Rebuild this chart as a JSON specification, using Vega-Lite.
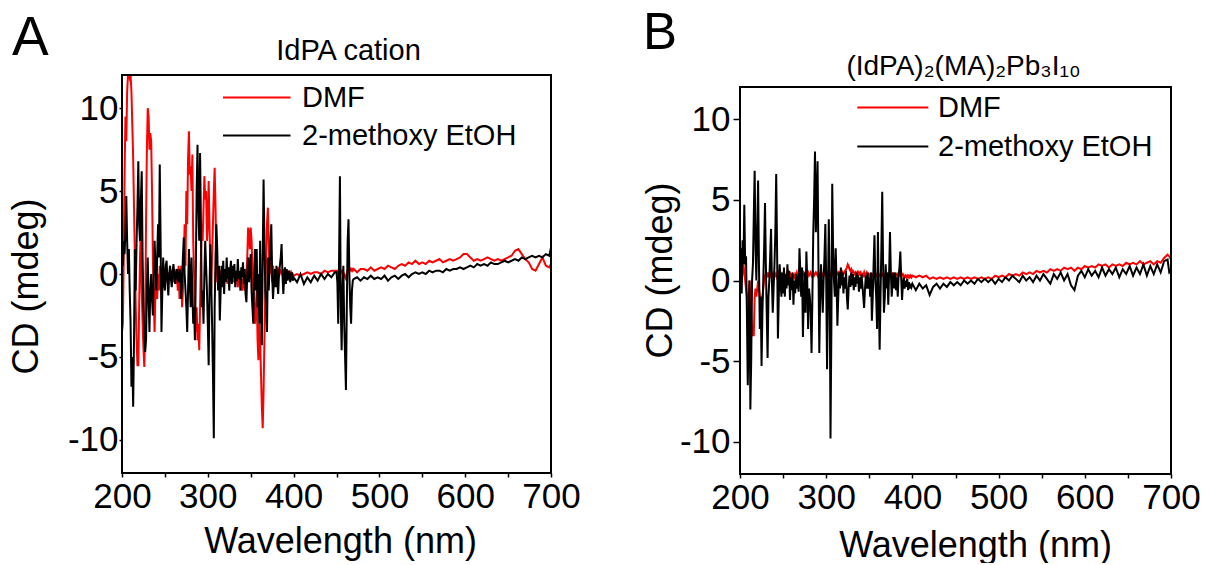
{
"$schema":"https://vega.github.io/schema/vega-lite/v6.json",
"padding":{"left":8,"top":8,"right":0,"bottom":0},
"config":{"font":"Liberation Sans","view":{"stroke":null},
"axis":{"grid":false,"domain":false,"labelFont":"Liberation Sans","labelFontSize":35,"labelColor":"#000000","titleFont":"Liberation Sans","titleFontSize":36,"titleFontWeight":"normal","titleColor":"#000000","tickColor":"#000000","tickWidth":1.5,"labelFlush":false,"labelOverlap":false},
"legend":{"labelFont":"Liberation Sans","labelColor":"#000000","labelFontSize":29,"labelLimit":500,"padding":0,"symbolStrokeWidth":2,"symbolType":"M-1,0H4"},
"title":{"font":"Liberation Sans","fontWeight":"normal","color":"#000000"}},
"datasets":{
"A":[
{"w":200,"DMF":-3.5,"2-methoxy EtOH":1.5},{"w":201,"DMF":-3,"2-methoxy EtOH":0.5},{"w":202,"DMF":1,"2-methoxy EtOH":2},{"w":203,"DMF":6,"2-methoxy EtOH":1.2},{"w":204,"DMF":9.5,"2-methoxy EtOH":2.5},{"w":205,"DMF":8,"2-methoxy EtOH":4.7},{"w":206,"DMF":11,"2-methoxy EtOH":2},{"w":207,"DMF":12,"2-methoxy EtOH":0},{"w":208,"DMF":12,"2-methoxy EtOH":1.5},{"w":209,"DMF":11.8,"2-methoxy EtOH":-1},
{"w":210,"DMF":12,"2-methoxy EtOH":-3},{"w":211,"DMF":11,"2-methoxy EtOH":-6.8},{"w":212,"DMF":9,"2-methoxy EtOH":-5},{"w":213,"DMF":7,"2-methoxy EtOH":-8},{"w":214,"DMF":4,"2-methoxy EtOH":-4},{"w":215,"DMF":1,"2-methoxy EtOH":1.5},{"w":216,"DMF":-2,"2-methoxy EtOH":-1},{"w":217,"DMF":-4,"2-methoxy EtOH":2},{"w":218,"DMF":-5.5,"2-methoxy EtOH":4},{"w":219,"DMF":-5.5,"2-methoxy EtOH":6.8},
{"w":220,"DMF":-2,"2-methoxy EtOH":3},{"w":221,"DMF":1,"2-methoxy EtOH":2},{"w":222,"DMF":3,"2-methoxy EtOH":4.5},{"w":223,"DMF":-1,"2-methoxy EtOH":6.2},{"w":224,"DMF":-3,"2-methoxy EtOH":1},{"w":225,"DMF":-4.5,"2-methoxy EtOH":-2},{"w":226,"DMF":-5.6,"2-methoxy EtOH":-3.5},{"w":227,"DMF":-3,"2-methoxy EtOH":-4.7},{"w":228,"DMF":3,"2-methoxy EtOH":-4},{"w":229,"DMF":7.5,"2-methoxy EtOH":-1},
{"w":230,"DMF":10,"2-methoxy EtOH":1},{"w":231,"DMF":9.5,"2-methoxy EtOH":-1.5},{"w":232,"DMF":7.5,"2-methoxy EtOH":-3.5},{"w":233,"DMF":8.5,"2-methoxy EtOH":-1},{"w":234,"DMF":8,"2-methoxy EtOH":0},{"w":235,"DMF":5,"2-methoxy EtOH":-1.5},{"w":236,"DMF":1,"2-methoxy EtOH":-2.5},{"w":237,"DMF":-1.5,"2-methoxy EtOH":0},{"w":238,"DMF":-3.5,"2-methoxy EtOH":2},{"w":239,"DMF":-1,"2-methoxy EtOH":0.5},
{"w":240,"DMF":0.5,"2-methoxy EtOH":-1},{"w":241,"DMF":-1.5,"2-methoxy EtOH":1},{"w":242,"DMF":0,"2-methoxy EtOH":3},{"w":243,"DMF":-1,"2-methoxy EtOH":1},{"w":244,"DMF":0.5,"2-methoxy EtOH":6.6},{"w":245,"DMF":-0.5,"2-methoxy EtOH":2},{"w":246,"DMF":0,"2-methoxy EtOH":-3.5},{"w":247,"DMF":-0.8,"2-methoxy EtOH":-1},{"w":248,"DMF":0.3,"2-methoxy EtOH":1},{"w":249,"DMF":-0.3,"2-methoxy EtOH":-0.5},
{"w":250,"DMF":0,"2-methoxy EtOH":-1},{"w":251,"DMF":-0.5,"2-methoxy EtOH":0.5},{"w":252,"DMF":0.2,"2-methoxy EtOH":0.8},{"w":253,"DMF":-0.2,"2-methoxy EtOH":-0.5},{"w":254,"DMF":0.1,"2-methoxy EtOH":-1.3},{"w":255,"DMF":-0.4,"2-methoxy EtOH":0},{"w":256,"DMF":0,"2-methoxy EtOH":0.5},{"w":257,"DMF":0.2,"2-methoxy EtOH":-0.3},{"w":258,"DMF":-0.3,"2-methoxy EtOH":-0.8},{"w":259,"DMF":0,"2-methoxy EtOH":0.2},
{"w":260,"DMF":-0.5,"2-methoxy EtOH":0.6},{"w":261,"DMF":0.3,"2-methoxy EtOH":-0.2},{"w":262,"DMF":0,"2-methoxy EtOH":-0.6},{"w":263,"DMF":-0.6,"2-methoxy EtOH":0.1},{"w":264,"DMF":0,"2-methoxy EtOH":0.3},{"w":265,"DMF":-1,"2-methoxy EtOH":-0.3},{"w":266,"DMF":0.5,"2-methoxy EtOH":-0.5},{"w":267,"DMF":-1.5,"2-methoxy EtOH":0.3},{"w":268,"DMF":-1,"2-methoxy EtOH":0},{"w":269,"DMF":0.5,"2-methoxy EtOH":-1.5},
{"w":270,"DMF":-2,"2-methoxy EtOH":-0.5},{"w":271,"DMF":-1,"2-methoxy EtOH":1},{"w":272,"DMF":1,"2-methoxy EtOH":2.2},{"w":273,"DMF":3,"2-methoxy EtOH":0},{"w":274,"DMF":0.5,"2-methoxy EtOH":-1},{"w":275,"DMF":5,"2-methoxy EtOH":-2},{"w":276,"DMF":3,"2-methoxy EtOH":-3.5},{"w":277,"DMF":7,"2-methoxy EtOH":-1},{"w":278,"DMF":8.6,"2-methoxy EtOH":1.5},{"w":279,"DMF":6,"2-methoxy EtOH":-0.5},
{"w":280,"DMF":6.5,"2-methoxy EtOH":-2},{"w":281,"DMF":5,"2-methoxy EtOH":1},{"w":282,"DMF":7.2,"2-methoxy EtOH":-1},{"w":283,"DMF":2,"2-methoxy EtOH":-3},{"w":284,"DMF":0,"2-methoxy EtOH":-2},{"w":285,"DMF":-2,"2-methoxy EtOH":-4},{"w":286,"DMF":-3.5,"2-methoxy EtOH":0},{"w":287,"DMF":-2,"2-methoxy EtOH":5},{"w":288,"DMF":-4,"2-methoxy EtOH":7.8},{"w":289,"DMF":-3,"2-methoxy EtOH":4},
{"w":290,"DMF":-4.6,"2-methoxy EtOH":2},{"w":291,"DMF":-2,"2-methoxy EtOH":7.3},{"w":292,"DMF":1,"2-methoxy EtOH":3},{"w":293,"DMF":3,"2-methoxy EtOH":-2},{"w":294,"DMF":2,"2-methoxy EtOH":-1},{"w":295,"DMF":4,"2-methoxy EtOH":-3},{"w":296,"DMF":5.9,"2-methoxy EtOH":0},{"w":297,"DMF":4.5,"2-methoxy EtOH":2},{"w":298,"DMF":5,"2-methoxy EtOH":0.5},{"w":299,"DMF":2,"2-methoxy EtOH":-1},
{"w":300,"DMF":3,"2-methoxy EtOH":-3},{"w":301,"DMF":5.6,"2-methoxy EtOH":-5.5},{"w":302,"DMF":3,"2-methoxy EtOH":-1},{"w":303,"DMF":0,"2-methoxy EtOH":1.8},{"w":304,"DMF":-1,"2-methoxy EtOH":-0.5},{"w":305,"DMF":1,"2-methoxy EtOH":-3},{"w":306,"DMF":3,"2-methoxy EtOH":-6},{"w":307,"DMF":5,"2-methoxy EtOH":-9.9},{"w":308,"DMF":6.4,"2-methoxy EtOH":-2},{"w":309,"DMF":4,"2-methoxy EtOH":1},
{"w":310,"DMF":1,"2-methoxy EtOH":3},{"w":311,"DMF":-0.5,"2-methoxy EtOH":1.5},{"w":312,"DMF":0,"2-methoxy EtOH":-1},{"w":313,"DMF":-0.8,"2-methoxy EtOH":0.5},{"w":314,"DMF":-0.3,"2-methoxy EtOH":-2.8},{"w":315,"DMF":0.2,"2-methoxy EtOH":-1},{"w":316,"DMF":-0.3,"2-methoxy EtOH":0.5},{"w":317,"DMF":0,"2-methoxy EtOH":-0.8},{"w":318,"DMF":-0.5,"2-methoxy EtOH":0.8},{"w":319,"DMF":0.1,"2-methoxy EtOH":-1.2},
{"w":320,"DMF":-0.4,"2-methoxy EtOH":0.3},{"w":321,"DMF":0,"2-methoxy EtOH":-0.5},{"w":322,"DMF":-0.2,"2-methoxy EtOH":1},{"w":323,"DMF":-0.6,"2-methoxy EtOH":-0.3},{"w":324,"DMF":0,"2-methoxy EtOH":0.4},{"w":325,"DMF":-0.3,"2-methoxy EtOH":-1},{"w":326,"DMF":0.2,"2-methoxy EtOH":0.2},{"w":327,"DMF":-0.4,"2-methoxy EtOH":0.8},{"w":328,"DMF":0,"2-methoxy EtOH":-0.6},{"w":329,"DMF":-0.2,"2-methoxy EtOH":0.5},
{"w":330,"DMF":-0.5,"2-methoxy EtOH":-0.2},{"w":331,"DMF":0,"2-methoxy EtOH":0.6},{"w":332,"DMF":-0.3,"2-methoxy EtOH":-0.8},{"w":333,"DMF":0.1,"2-methoxy EtOH":0.2},{"w":334,"DMF":-0.4,"2-methoxy EtOH":-0.4},{"w":335,"DMF":-0.8,"2-methoxy EtOH":0.9},{"w":336,"DMF":-0.2,"2-methoxy EtOH":-0.3},{"w":337,"DMF":0,"2-methoxy EtOH":0.2},{"w":338,"DMF":-0.5,"2-methoxy EtOH":-1},{"w":339,"DMF":-0.2,"2-methoxy EtOH":0.4},
{"w":340,"DMF":-1,"2-methoxy EtOH":-0.2},{"w":341,"DMF":-0.3,"2-methoxy EtOH":0.7},{"w":342,"DMF":-0.6,"2-methoxy EtOH":-0.6},{"w":343,"DMF":-1,"2-methoxy EtOH":0.3},{"w":344,"DMF":-0.4,"2-methoxy EtOH":-1.2},{"w":345,"DMF":0,"2-methoxy EtOH":-1.7},{"w":346,"DMF":1,"2-methoxy EtOH":0},{"w":347,"DMF":2.8,"2-methoxy EtOH":1},{"w":348,"DMF":2.5,"2-methoxy EtOH":-0.5},{"w":349,"DMF":1.5,"2-methoxy EtOH":0.5},
{"w":350,"DMF":2.8,"2-methoxy EtOH":1.2},{"w":351,"DMF":2,"2-methoxy EtOH":-1},{"w":352,"DMF":0.5,"2-methoxy EtOH":-2},{"w":353,"DMF":-1,"2-methoxy EtOH":-3},{"w":354,"DMF":-2,"2-methoxy EtOH":0},{"w":355,"DMF":-3,"2-methoxy EtOH":1.5},{"w":356,"DMF":-2,"2-methoxy EtOH":-1},{"w":357,"DMF":-1,"2-methoxy EtOH":1.5},{"w":358,"DMF":-4,"2-methoxy EtOH":-2},{"w":359,"DMF":-5.2,"2-methoxy EtOH":0},
{"w":360,"DMF":-3,"2-methoxy EtOH":-3},{"w":361,"DMF":-4,"2-methoxy EtOH":2},{"w":362,"DMF":-6,"2-methoxy EtOH":-2},{"w":363,"DMF":-8,"2-methoxy EtOH":-4.3},{"w":364,"DMF":-9.3,"2-methoxy EtOH":1},{"w":365,"DMF":-7,"2-methoxy EtOH":5.7},{"w":366,"DMF":-4,"2-methoxy EtOH":2},{"w":367,"DMF":-1,"2-methoxy EtOH":-1},{"w":368,"DMF":1,"2-methoxy EtOH":-2},{"w":369,"DMF":3,"2-methoxy EtOH":-3.5},
{"w":370,"DMF":4,"2-methoxy EtOH":1},{"w":371,"DMF":2,"2-methoxy EtOH":-1},{"w":372,"DMF":0,"2-methoxy EtOH":0.5},{"w":373,"DMF":1,"2-methoxy EtOH":2},{"w":374,"DMF":0.5,"2-methoxy EtOH":3},{"w":375,"DMF":-0.5,"2-methoxy EtOH":0},{"w":376,"DMF":0.5,"2-methoxy EtOH":-1.5},{"w":377,"DMF":0,"2-methoxy EtOH":-0.5},{"w":378,"DMF":0.3,"2-methoxy EtOH":0.3},{"w":379,"DMF":-0.3,"2-methoxy EtOH":-0.8},
{"w":380,"DMF":0.2,"2-methoxy EtOH":0.5},{"w":381,"DMF":0,"2-methoxy EtOH":-0.5},{"w":382,"DMF":0.4,"2-methoxy EtOH":-1.2},{"w":383,"DMF":-0.2,"2-methoxy EtOH":0},{"w":384,"DMF":0.3,"2-methoxy EtOH":0.5},{"w":385,"DMF":0,"2-methoxy EtOH":1},{"w":386,"DMF":0.2,"2-methoxy EtOH":1.8},{"w":387,"DMF":-0.1,"2-methoxy EtOH":0},{"w":388,"DMF":0.3,"2-methoxy EtOH":-1.2},{"w":389,"DMF":0,"2-methoxy EtOH":-0.3},
{"w":390,"DMF":0.2,"2-methoxy EtOH":0.4},{"w":391,"DMF":-0.1,"2-methoxy EtOH":-0.6},{"w":392,"DMF":0.1,"2-methoxy EtOH":0.3},{"w":393,"DMF":0,"2-methoxy EtOH":-0.4},{"w":394,"DMF":0.2,"2-methoxy EtOH":-0.1},{"w":395,"DMF":-0.1,"2-methoxy EtOH":0.2},{"w":396,"DMF":0,"2-methoxy EtOH":-0.5},{"w":397,"DMF":0.1,"2-methoxy EtOH":-0.2},{"w":398,"DMF":-0.1,"2-methoxy EtOH":0.1},{"w":399,"DMF":0,"2-methoxy EtOH":-0.4},
{"w":400,"DMF":-0.1,"2-methoxy EtOH":-0.2},{"w":404,"DMF":0,"2-methoxy EtOH":-0.5},{"w":408,"DMF":-0.1,"2-methoxy EtOH":0},{"w":412,"DMF":0,"2-methoxy EtOH":-0.6},{"w":416,"DMF":0.1,"2-methoxy EtOH":-0.2},{"w":420,"DMF":0,"2-methoxy EtOH":-0.5},{"w":424,"DMF":0.1,"2-methoxy EtOH":-0.1},{"w":428,"DMF":0.1,"2-methoxy EtOH":-0.4},{"w":432,"DMF":0,"2-methoxy EtOH":0},{"w":436,"DMF":0.2,"2-methoxy EtOH":-0.3},
{"w":440,"DMF":0.1,"2-methoxy EtOH":0},{"w":444,"DMF":0.2,"2-methoxy EtOH":-0.2},{"w":448,"DMF":0.2,"2-methoxy EtOH":0.1},{"w":450,"DMF":0.2,"2-methoxy EtOH":0.1},{"w":451,"DMF":0.1,"2-methoxy EtOH":-0.5},{"w":452,"DMF":0.2,"2-methoxy EtOH":-3},{"w":453,"DMF":0.2,"2-methoxy EtOH":1},{"w":454,"DMF":0.3,"2-methoxy EtOH":5.9},{"w":455,"DMF":0.2,"2-methoxy EtOH":-2},{"w":456,"DMF":0.1,"2-methoxy EtOH":-4.6},
{"w":457,"DMF":0.2,"2-methoxy EtOH":-1},{"w":458,"DMF":0.1,"2-methoxy EtOH":0.5},{"w":459,"DMF":0,"2-methoxy EtOH":-3},{"w":460,"DMF":-0.2,"2-methoxy EtOH":-5},{"w":461,"DMF":-0.3,"2-methoxy EtOH":-7},{"w":462,"DMF":0,"2-methoxy EtOH":-2},{"w":463,"DMF":0.2,"2-methoxy EtOH":2},{"w":464,"DMF":0.3,"2-methoxy EtOH":3.3},{"w":465,"DMF":0.2,"2-methoxy EtOH":0},{"w":466,"DMF":0.3,"2-methoxy EtOH":-2},
{"w":467,"DMF":0.2,"2-methoxy EtOH":-3},{"w":468,"DMF":0.3,"2-methoxy EtOH":-1},{"w":469,"DMF":0.2,"2-methoxy EtOH":-0.4},{"w":470,"DMF":0.3,"2-methoxy EtOH":-0.3},{"w":474,"DMF":0.1,"2-methoxy EtOH":-0.2},{"w":478,"DMF":0.3,"2-methoxy EtOH":-0.4},{"w":482,"DMF":0.3,"2-methoxy EtOH":-0.2},{"w":486,"DMF":0.2,"2-methoxy EtOH":-0.3},{"w":490,"DMF":0.4,"2-methoxy EtOH":-0.1},{"w":494,"DMF":0.2,"2-methoxy EtOH":-0.3},
{"w":498,"DMF":0.3,"2-methoxy EtOH":-0.2},{"w":502,"DMF":0.4,"2-methoxy EtOH":-0.3},{"w":506,"DMF":0.3,"2-methoxy EtOH":-0.1},{"w":510,"DMF":0.5,"2-methoxy EtOH":-0.4},{"w":514,"DMF":0.4,"2-methoxy EtOH":-0.2},{"w":518,"DMF":0.3,"2-methoxy EtOH":-0.1},{"w":522,"DMF":0.5,"2-methoxy EtOH":-0.3},{"w":526,"DMF":0.6,"2-methoxy EtOH":-0.1},{"w":530,"DMF":0.5,"2-methoxy EtOH":0},{"w":534,"DMF":0.7,"2-methoxy EtOH":-0.2},
{"w":538,"DMF":0.6,"2-methoxy EtOH":0},{"w":542,"DMF":0.8,"2-methoxy EtOH":0.1},{"w":546,"DMF":0.6,"2-methoxy EtOH":0},{"w":550,"DMF":0.7,"2-methoxy EtOH":0.1},{"w":554,"DMF":0.6,"2-methoxy EtOH":0},{"w":558,"DMF":0.8,"2-methoxy EtOH":0.2},{"w":562,"DMF":0.7,"2-methoxy EtOH":0.1},{"w":566,"DMF":0.8,"2-methoxy EtOH":0.2},{"w":570,"DMF":0.9,"2-methoxy EtOH":0.2},{"w":574,"DMF":0.7,"2-methoxy EtOH":0.1},
{"w":578,"DMF":0.8,"2-methoxy EtOH":0.3},{"w":582,"DMF":0.9,"2-methoxy EtOH":0.2},{"w":586,"DMF":0.8,"2-methoxy EtOH":0.3},{"w":590,"DMF":0.9,"2-methoxy EtOH":0.3},{"w":594,"DMF":1,"2-methoxy EtOH":0.4},{"w":598,"DMF":1.2,"2-methoxy EtOH":0.3},{"w":602,"DMF":1.2,"2-methoxy EtOH":0.4},{"w":606,"DMF":1,"2-methoxy EtOH":0.5},{"w":610,"DMF":0.8,"2-methoxy EtOH":0.4},{"w":614,"DMF":0.9,"2-methoxy EtOH":0.6},
{"w":618,"DMF":0.8,"2-methoxy EtOH":0.5},{"w":622,"DMF":0.9,"2-methoxy EtOH":0.6},{"w":626,"DMF":1,"2-methoxy EtOH":0.5},{"w":630,"DMF":0.9,"2-methoxy EtOH":0.7},{"w":634,"DMF":0.8,"2-methoxy EtOH":0.6},{"w":638,"DMF":0.9,"2-methoxy EtOH":0.6},{"w":642,"DMF":0.8,"2-methoxy EtOH":0.7},{"w":646,"DMF":0.9,"2-methoxy EtOH":0.8},{"w":650,"DMF":1,"2-methoxy EtOH":0.7},{"w":654,"DMF":1.1,"2-methoxy EtOH":0.8},
{"w":658,"DMF":1.4,"2-methoxy EtOH":0.9},{"w":662,"DMF":1.5,"2-methoxy EtOH":0.8},{"w":666,"DMF":1.2,"2-methoxy EtOH":1},{"w":670,"DMF":0.9,"2-methoxy EtOH":0.9},{"w":674,"DMF":0.7,"2-methoxy EtOH":1},{"w":678,"DMF":0.3,"2-methoxy EtOH":1.1},{"w":682,"DMF":0.2,"2-methoxy EtOH":1},{"w":686,"DMF":0.6,"2-methoxy EtOH":1.1},{"w":690,"DMF":1,"2-methoxy EtOH":1},{"w":694,"DMF":0.5,"2-methoxy EtOH":1.2},
{"w":698,"DMF":0.4,"2-methoxy EtOH":1.1},{"w":700,"DMF":0.6,"2-methoxy EtOH":1.6}
],
"B":[
{"w":200,"DMF":0.5,"2-methoxy EtOH":0},{"w":201,"DMF":1,"2-methoxy EtOH":2},{"w":202,"DMF":0,"2-methoxy EtOH":-0.8},{"w":203,"DMF":0.5,"2-methoxy EtOH":2.5},{"w":204,"DMF":1,"2-methoxy EtOH":1},{"w":205,"DMF":0.5,"2-methoxy EtOH":4.7},{"w":206,"DMF":0,"2-methoxy EtOH":1},{"w":207,"DMF":-0.5,"2-methoxy EtOH":1.5},{"w":208,"DMF":-1,"2-methoxy EtOH":-2},{"w":209,"DMF":-2,"2-methoxy EtOH":-6.5},
{"w":210,"DMF":-1,"2-methoxy EtOH":-3},{"w":211,"DMF":0,"2-methoxy EtOH":0},{"w":212,"DMF":-1,"2-methoxy EtOH":-8},{"w":213,"DMF":-2,"2-methoxy EtOH":-5},{"w":214,"DMF":-3,"2-methoxy EtOH":0},{"w":215,"DMF":-3.4,"2-methoxy EtOH":1},{"w":216,"DMF":-3.4,"2-methoxy EtOH":4},{"w":217,"DMF":-1,"2-methoxy EtOH":6.8},{"w":218,"DMF":-0.5,"2-methoxy EtOH":2},{"w":219,"DMF":-1,"2-methoxy EtOH":0},
{"w":220,"DMF":-0.5,"2-methoxy EtOH":3},{"w":221,"DMF":0,"2-methoxy EtOH":6.2},{"w":222,"DMF":-0.5,"2-methoxy EtOH":1},{"w":223,"DMF":-1,"2-methoxy EtOH":-3},{"w":224,"DMF":-1.5,"2-methoxy EtOH":-1},{"w":225,"DMF":-1.5,"2-methoxy EtOH":-5.3},{"w":226,"DMF":-1,"2-methoxy EtOH":-2},{"w":227,"DMF":-0.5,"2-methoxy EtOH":0},{"w":228,"DMF":0,"2-methoxy EtOH":2},{"w":229,"DMF":0.3,"2-methoxy EtOH":4.8},
{"w":230,"DMF":0.5,"2-methoxy EtOH":1},{"w":231,"DMF":0.3,"2-methoxy EtOH":-2},{"w":232,"DMF":0.5,"2-methoxy EtOH":-4.8},{"w":233,"DMF":0.2,"2-methoxy EtOH":-1},{"w":234,"DMF":0.5,"2-methoxy EtOH":0},{"w":235,"DMF":0.3,"2-methoxy EtOH":1.5},{"w":236,"DMF":0.5,"2-methoxy EtOH":3.2},{"w":237,"DMF":0.2,"2-methoxy EtOH":0},{"w":238,"DMF":0.4,"2-methoxy EtOH":-2},{"w":239,"DMF":0.3,"2-methoxy EtOH":-0.5},
{"w":240,"DMF":0.5,"2-methoxy EtOH":1},{"w":241,"DMF":0.3,"2-methoxy EtOH":3},{"w":242,"DMF":0.4,"2-methoxy EtOH":6.6},{"w":243,"DMF":0.2,"2-methoxy EtOH":2},{"w":244,"DMF":0.3,"2-methoxy EtOH":-3.6},{"w":245,"DMF":0.5,"2-methoxy EtOH":-1},{"w":246,"DMF":0.3,"2-methoxy EtOH":1},{"w":247,"DMF":0.2,"2-methoxy EtOH":0},{"w":248,"DMF":0.4,"2-methoxy EtOH":-1},{"w":249,"DMF":0.3,"2-methoxy EtOH":0.5},
{"w":250,"DMF":0.2,"2-methoxy EtOH":-0.8},{"w":251,"DMF":0.4,"2-methoxy EtOH":0.8},{"w":252,"DMF":0.3,"2-methoxy EtOH":-1},{"w":253,"DMF":0.2,"2-methoxy EtOH":0.4},{"w":254,"DMF":0.4,"2-methoxy EtOH":-0.5},{"w":255,"DMF":0.3,"2-methoxy EtOH":1},{"w":256,"DMF":0.5,"2-methoxy EtOH":-0.3},{"w":257,"DMF":0.3,"2-methoxy EtOH":0.6},{"w":258,"DMF":0.2,"2-methoxy EtOH":-1.2},{"w":259,"DMF":0.4,"2-methoxy EtOH":0.2},
{"w":260,"DMF":0.3,"2-methoxy EtOH":-0.6},{"w":261,"DMF":0.4,"2-methoxy EtOH":0.5},{"w":262,"DMF":0.3,"2-methoxy EtOH":-1.5},{"w":263,"DMF":0.2,"2-methoxy EtOH":0},{"w":264,"DMF":0.4,"2-methoxy EtOH":-0.8},{"w":265,"DMF":0.3,"2-methoxy EtOH":0.4},{"w":266,"DMF":0.5,"2-methoxy EtOH":-0.5},{"w":267,"DMF":0.3,"2-methoxy EtOH":0.3},{"w":268,"DMF":0.4,"2-methoxy EtOH":-0.7},{"w":269,"DMF":0.3,"2-methoxy EtOH":2},
{"w":270,"DMF":0.5,"2-methoxy EtOH":0.5},{"w":271,"DMF":0.3,"2-methoxy EtOH":-1},{"w":272,"DMF":0.4,"2-methoxy EtOH":0.8},{"w":273,"DMF":0.3,"2-methoxy EtOH":-3.5},{"w":274,"DMF":0.5,"2-methoxy EtOH":-1},{"w":275,"DMF":0.4,"2-methoxy EtOH":0.5},{"w":276,"DMF":0.3,"2-methoxy EtOH":-2},{"w":277,"DMF":0.5,"2-methoxy EtOH":1.8},{"w":278,"DMF":0.4,"2-methoxy EtOH":0},{"w":279,"DMF":0.5,"2-methoxy EtOH":-3},
{"w":280,"DMF":0.3,"2-methoxy EtOH":-0.5},{"w":281,"DMF":0.4,"2-methoxy EtOH":-1},{"w":282,"DMF":0.5,"2-methoxy EtOH":-2},{"w":283,"DMF":0.3,"2-methoxy EtOH":-4.5},{"w":284,"DMF":0.4,"2-methoxy EtOH":-1},{"w":285,"DMF":0.5,"2-methoxy EtOH":3},{"w":286,"DMF":0.3,"2-methoxy EtOH":5},{"w":287,"DMF":0.4,"2-methoxy EtOH":8},{"w":288,"DMF":0.5,"2-methoxy EtOH":3},{"w":289,"DMF":0.4,"2-methoxy EtOH":5},
{"w":290,"DMF":0.3,"2-methoxy EtOH":7.4},{"w":291,"DMF":0.5,"2-methoxy EtOH":1},{"w":292,"DMF":0.4,"2-methoxy EtOH":-4.5},{"w":293,"DMF":0.3,"2-methoxy EtOH":-1},{"w":294,"DMF":0.5,"2-methoxy EtOH":1},{"w":295,"DMF":0.4,"2-methoxy EtOH":-0.5},{"w":296,"DMF":0.3,"2-methoxy EtOH":-2},{"w":297,"DMF":0.5,"2-methoxy EtOH":0},{"w":298,"DMF":0.4,"2-methoxy EtOH":1.5},{"w":299,"DMF":0.5,"2-methoxy EtOH":3.5},
{"w":300,"DMF":0.3,"2-methoxy EtOH":0},{"w":301,"DMF":0.4,"2-methoxy EtOH":-5.5},{"w":302,"DMF":0.5,"2-methoxy EtOH":-1},{"w":303,"DMF":0.4,"2-methoxy EtOH":3.8},{"w":304,"DMF":0.3,"2-methoxy EtOH":0},{"w":305,"DMF":0.4,"2-methoxy EtOH":-9.8},{"w":306,"DMF":0.5,"2-methoxy EtOH":-3},{"w":307,"DMF":0.4,"2-methoxy EtOH":6},{"w":308,"DMF":0.3,"2-methoxy EtOH":2},{"w":309,"DMF":0.5,"2-methoxy EtOH":0},
{"w":310,"DMF":0.4,"2-methoxy EtOH":-1},{"w":311,"DMF":0.3,"2-methoxy EtOH":2},{"w":312,"DMF":0.5,"2-methoxy EtOH":0},{"w":313,"DMF":0.4,"2-methoxy EtOH":-2.8},{"w":314,"DMF":0.5,"2-methoxy EtOH":-1},{"w":315,"DMF":0.4,"2-methoxy EtOH":0.5},{"w":316,"DMF":0.5,"2-methoxy EtOH":-0.5},{"w":317,"DMF":0.4,"2-methoxy EtOH":0.8},{"w":318,"DMF":0.6,"2-methoxy EtOH":-0.3},{"w":319,"DMF":0.5,"2-methoxy EtOH":0.5},
{"w":320,"DMF":0.4,"2-methoxy EtOH":-0.8},{"w":321,"DMF":0.5,"2-methoxy EtOH":0.2},{"w":322,"DMF":0.6,"2-methoxy EtOH":-0.5},{"w":323,"DMF":0.7,"2-methoxy EtOH":0.6},{"w":324,"DMF":0.8,"2-methoxy EtOH":-1},{"w":325,"DMF":1,"2-methoxy EtOH":-1.8},{"w":326,"DMF":0.9,"2-methoxy EtOH":-0.5},{"w":327,"DMF":0.7,"2-methoxy EtOH":0.3},{"w":328,"DMF":0.6,"2-methoxy EtOH":-0.4},{"w":329,"DMF":0.7,"2-methoxy EtOH":0.5},
{"w":330,"DMF":0.5,"2-methoxy EtOH":-0.3},{"w":331,"DMF":0.6,"2-methoxy EtOH":0.4},{"w":332,"DMF":0.5,"2-methoxy EtOH":-0.6},{"w":333,"DMF":0.4,"2-methoxy EtOH":0.2},{"w":334,"DMF":0.5,"2-methoxy EtOH":-0.4},{"w":335,"DMF":0.4,"2-methoxy EtOH":0.5},{"w":336,"DMF":0.5,"2-methoxy EtOH":-0.2},{"w":337,"DMF":0.3,"2-methoxy EtOH":0.3},{"w":338,"DMF":0.5,"2-methoxy EtOH":-0.7},{"w":339,"DMF":0.4,"2-methoxy EtOH":0.2},
{"w":340,"DMF":0.5,"2-methoxy EtOH":-0.5},{"w":341,"DMF":0.3,"2-methoxy EtOH":0.4},{"w":342,"DMF":0.4,"2-methoxy EtOH":-0.3},{"w":343,"DMF":0.3,"2-methoxy EtOH":-1},{"w":344,"DMF":0.5,"2-methoxy EtOH":-1.7},{"w":345,"DMF":0.3,"2-methoxy EtOH":-0.5},{"w":346,"DMF":0.4,"2-methoxy EtOH":0.3},{"w":347,"DMF":0.5,"2-methoxy EtOH":-0.5},{"w":348,"DMF":0.3,"2-methoxy EtOH":0.5},{"w":349,"DMF":0.4,"2-methoxy EtOH":-0.5},
{"w":350,"DMF":0.3,"2-methoxy EtOH":0.2},{"w":351,"DMF":0.4,"2-methoxy EtOH":-1},{"w":352,"DMF":0.3,"2-methoxy EtOH":0.5},{"w":353,"DMF":0.4,"2-methoxy EtOH":-2.5},{"w":354,"DMF":0.3,"2-methoxy EtOH":-1},{"w":355,"DMF":0.4,"2-methoxy EtOH":1},{"w":356,"DMF":0.3,"2-methoxy EtOH":2.8},{"w":357,"DMF":0.4,"2-methoxy EtOH":0},{"w":358,"DMF":0.3,"2-methoxy EtOH":-1},{"w":359,"DMF":0.4,"2-methoxy EtOH":-3},
{"w":360,"DMF":0.3,"2-methoxy EtOH":3},{"w":361,"DMF":0.4,"2-methoxy EtOH":-1},{"w":362,"DMF":0.3,"2-methoxy EtOH":-4.3},{"w":363,"DMF":0.4,"2-methoxy EtOH":-1},{"w":364,"DMF":0.3,"2-methoxy EtOH":2},{"w":365,"DMF":0.4,"2-methoxy EtOH":5.5},{"w":366,"DMF":0.3,"2-methoxy EtOH":1},{"w":367,"DMF":0.4,"2-methoxy EtOH":-2},{"w":368,"DMF":0.3,"2-methoxy EtOH":-1},{"w":369,"DMF":0.4,"2-methoxy EtOH":1},
{"w":370,"DMF":0.3,"2-methoxy EtOH":-0.5},{"w":371,"DMF":0.4,"2-methoxy EtOH":0.5},{"w":372,"DMF":0.3,"2-methoxy EtOH":-1.5},{"w":373,"DMF":0.4,"2-methoxy EtOH":0.5},{"w":374,"DMF":0.3,"2-methoxy EtOH":3},{"w":375,"DMF":0.4,"2-methoxy EtOH":0.5},{"w":376,"DMF":0.3,"2-methoxy EtOH":-1},{"w":377,"DMF":0.4,"2-methoxy EtOH":0},{"w":378,"DMF":0.3,"2-methoxy EtOH":0.5},{"w":379,"DMF":0.4,"2-methoxy EtOH":-0.5},
{"w":380,"DMF":0.3,"2-methoxy EtOH":0.5},{"w":381,"DMF":0.4,"2-methoxy EtOH":-0.6},{"w":382,"DMF":0.3,"2-methoxy EtOH":0.2},{"w":383,"DMF":0.4,"2-methoxy EtOH":-1},{"w":384,"DMF":0.3,"2-methoxy EtOH":0.3},{"w":385,"DMF":0.4,"2-methoxy EtOH":0.8},{"w":386,"DMF":0.3,"2-methoxy EtOH":1.8},{"w":387,"DMF":0.4,"2-methoxy EtOH":0.2},{"w":388,"DMF":0.3,"2-methoxy EtOH":-1.2},{"w":389,"DMF":0.4,"2-methoxy EtOH":-0.2},
{"w":390,"DMF":0.3,"2-methoxy EtOH":0.2},{"w":391,"DMF":0.2,"2-methoxy EtOH":-0.5},{"w":392,"DMF":0.3,"2-methoxy EtOH":0},{"w":393,"DMF":0.2,"2-methoxy EtOH":-0.4},{"w":394,"DMF":0.3,"2-methoxy EtOH":0.1},{"w":395,"DMF":0.2,"2-methoxy EtOH":-0.6},{"w":396,"DMF":0.3,"2-methoxy EtOH":-0.1},{"w":397,"DMF":0.2,"2-methoxy EtOH":-0.5},{"w":398,"DMF":0.3,"2-methoxy EtOH":-0.2},{"w":399,"DMF":0.2,"2-methoxy EtOH":-0.4},
{"w":400,"DMF":0.3,"2-methoxy EtOH":-0.2},{"w":404,"DMF":0.2,"2-methoxy EtOH":-0.6},{"w":408,"DMF":0.3,"2-methoxy EtOH":-0.2},{"w":412,"DMF":0.2,"2-methoxy EtOH":-0.5},{"w":416,"DMF":0.3,"2-methoxy EtOH":-0.3},{"w":420,"DMF":0.1,"2-methoxy EtOH":-0.9},{"w":424,"DMF":0.2,"2-methoxy EtOH":-0.4},{"w":428,"DMF":0.1,"2-methoxy EtOH":-0.2},{"w":432,"DMF":0.2,"2-methoxy EtOH":-0.5},{"w":436,"DMF":0.1,"2-methoxy EtOH":-0.2},
{"w":440,"DMF":0.2,"2-methoxy EtOH":-0.4},{"w":444,"DMF":0.1,"2-methoxy EtOH":-0.1},{"w":448,"DMF":0.2,"2-methoxy EtOH":-0.3},{"w":452,"DMF":0.1,"2-methoxy EtOH":-0.1},{"w":456,"DMF":0.2,"2-methoxy EtOH":-0.3},{"w":460,"DMF":0.1,"2-methoxy EtOH":0},{"w":464,"DMF":0.2,"2-methoxy EtOH":-0.2},{"w":468,"DMF":0.1,"2-methoxy EtOH":0},{"w":472,"DMF":0.2,"2-methoxy EtOH":-0.2},{"w":476,"DMF":0.1,"2-methoxy EtOH":0.1},
{"w":480,"DMF":0.2,"2-methoxy EtOH":-0.1},{"w":484,"DMF":0.1,"2-methoxy EtOH":0.1},{"w":488,"DMF":0.2,"2-methoxy EtOH":-0.1},{"w":492,"DMF":0.1,"2-methoxy EtOH":0.1},{"w":496,"DMF":0.3,"2-methoxy EtOH":-0.2},{"w":500,"DMF":0.2,"2-methoxy EtOH":0.1},{"w":504,"DMF":0.3,"2-methoxy EtOH":-0.1},{"w":508,"DMF":0.2,"2-methoxy EtOH":0.2},{"w":512,"DMF":0.4,"2-methoxy EtOH":0},{"w":516,"DMF":0.3,"2-methoxy EtOH":0.3},
{"w":520,"DMF":0.4,"2-methoxy EtOH":0.1},{"w":524,"DMF":0.3,"2-methoxy EtOH":-0.1},{"w":528,"DMF":0.5,"2-methoxy EtOH":0.3},{"w":532,"DMF":0.4,"2-methoxy EtOH":0},{"w":536,"DMF":0.5,"2-methoxy EtOH":0.2},{"w":540,"DMF":0.4,"2-methoxy EtOH":-0.1},{"w":544,"DMF":0.6,"2-methoxy EtOH":0.3},{"w":548,"DMF":0.5,"2-methoxy EtOH":0},{"w":552,"DMF":0.6,"2-methoxy EtOH":0.4},{"w":556,"DMF":0.5,"2-methoxy EtOH":0.1},
{"w":560,"DMF":0.7,"2-methoxy EtOH":-0.2},{"w":564,"DMF":0.6,"2-methoxy EtOH":0.4},{"w":568,"DMF":0.7,"2-methoxy EtOH":0.1},{"w":572,"DMF":0.6,"2-methoxy EtOH":0.5},{"w":576,"DMF":0.8,"2-methoxy EtOH":0},{"w":580,"DMF":0.7,"2-methoxy EtOH":0.4},{"w":584,"DMF":0.8,"2-methoxy EtOH":-0.3},{"w":588,"DMF":0.6,"2-methoxy EtOH":-0.6},{"w":592,"DMF":0.8,"2-methoxy EtOH":0.3},{"w":596,"DMF":0.7,"2-methoxy EtOH":0.6},
{"w":600,"DMF":0.9,"2-methoxy EtOH":0.2},{"w":604,"DMF":0.8,"2-methoxy EtOH":0.7},{"w":608,"DMF":0.9,"2-methoxy EtOH":0.3},{"w":612,"DMF":0.8,"2-methoxy EtOH":0.6},{"w":616,"DMF":1,"2-methoxy EtOH":0.2},{"w":620,"DMF":0.9,"2-methoxy EtOH":0.8},{"w":624,"DMF":1,"2-methoxy EtOH":0.3},{"w":628,"DMF":0.8,"2-methoxy EtOH":0.7},{"w":632,"DMF":1,"2-methoxy EtOH":0.4},{"w":636,"DMF":0.9,"2-methoxy EtOH":0.8},
{"w":640,"DMF":1,"2-methoxy EtOH":0.2},{"w":644,"DMF":0.9,"2-methoxy EtOH":0.7},{"w":648,"DMF":1.1,"2-methoxy EtOH":0.4},{"w":652,"DMF":1,"2-methoxy EtOH":0.9},{"w":656,"DMF":1.1,"2-methoxy EtOH":0.3},{"w":660,"DMF":1,"2-methoxy EtOH":0.8},{"w":664,"DMF":1.2,"2-methoxy EtOH":0.4},{"w":668,"DMF":1,"2-methoxy EtOH":1},{"w":672,"DMF":1.1,"2-methoxy EtOH":0.3},{"w":676,"DMF":1.2,"2-methoxy EtOH":0.9},
{"w":680,"DMF":1,"2-methoxy EtOH":0.4},{"w":684,"DMF":1.2,"2-methoxy EtOH":1},{"w":688,"DMF":1.1,"2-methoxy EtOH":0.5},{"w":692,"DMF":1.4,"2-methoxy EtOH":1.2},{"w":696,"DMF":1.6,"2-methoxy EtOH":1.3},{"w":698,"DMF":1.5,"2-methoxy EtOH":0.5},{"w":700,"DMF":1.3,"2-methoxy EtOH":0.6}
]},
"spacing":61,
"resolve":{"scale":{"color":"independent"},"legend":{"color":"independent"}},
"hconcat":[
{"width":429,"height":398,
"title":{"text":"A","anchor":"start","frame":"group","dx":-110,"offset":-74,"fontSize":55,"baseline":"alphabetic"},
"resolve":{"axis":{"x":"independent"}},
"layer":[
{"data":{"name":"A"},
"transform":[{"fold":["DMF","2-methoxy EtOH"],"as":["series","cd"]}],
"mark":{"type":"line","strokeWidth":2,"clip":true},
"encoding":{
"x":{"field":"w","type":"quantitative","scale":{"domain":[200,700],"nice":false,"zero":false},
"axis":{"orient":"bottom","values":[200,250,300,350,400,450,500,550,600,650,700],"labelExpr":"datum.value % 100 === 0 ? datum.label : ''","tickSize":4,"labelPadding":2,"title":"Wavelength (nm)","titleX":218,"titleY":79,"titleAlign":"center","titleBaseline":"alphabetic"}},
"y":{"field":"cd","type":"quantitative","scale":{"domain":[-12,12],"nice":false,"zero":false},
"axis":{"values":[-10,-5,0,5,10],"labelExpr":"replace(datum.label, '−', '-')","tickSize":3,"labelPadding":1,"title":"CD (mdeg)","titleX":-96,"titleY":211,"titleAlign":"center","titleBaseline":"middle"}},
"color":{"field":"series","type":"nominal","scale":{"domain":["DMF","2-methoxy EtOH"],"range":["#ff0000","#000000"]},
"legend":{"orient":"none","legendX":100,"legendY":8,"title":null,"symbolSize":729,"labelOffset":51,"rowPadding":8}}}},
{"data":{"values":[{}]},
"mark":{"type":"rect","fill":"transparent","stroke":"#000000","strokeWidth":2},
"encoding":{"x":{"datum":200,"type":"quantitative","axis":null},"x2":{"datum":700},"y":{"datum":-12,"type":"quantitative"},"y2":{"datum":12}}},
{"data":{"values":[{"w":200}]},
"mark":{"type":"rule","strokeOpacity":0},
"encoding":{"x":{"field":"w","type":"quantitative","axis":{"orient":"top","labels":false,"ticks":false,"domain":false,"title":"IdPA cation","titleX":226,"titleY":-16,"titleAlign":"center","titleBaseline":"alphabetic","titleAngle":0,"titleFontSize":29}}}}
]},
{"width":431,"height":399,
"title":{"text":"B","anchor":"start","frame":"group","dx":-97,"offset":-48,"fontSize":51,"baseline":"alphabetic"},
"resolve":{"axis":{"x":"independent"}},
"layer":[
{"data":{"name":"B"},
"transform":[{"fold":["DMF","2-methoxy EtOH"],"as":["series","cd"]}],
"mark":{"type":"line","strokeWidth":2,"clip":true},
"encoding":{
"x":{"field":"w","type":"quantitative","scale":{"domain":[200,700],"nice":false,"zero":false},
"axis":{"orient":"bottom","values":[200,250,300,350,400,450,500,550,600,650,700],"labelExpr":"datum.value % 100 === 0 ? datum.label : ''","tickSize":4,"labelPadding":2,"title":"Wavelength (nm)","titleX":235,"titleY":82,"titleAlign":"center","titleBaseline":"alphabetic"}},
"y":{"field":"cd","type":"quantitative","scale":{"domain":[-12,12],"nice":false,"zero":false,"range":[399,12]},
"axis":{"values":[-10,-5,0,5,10],"labelExpr":"replace(datum.label, '−', '-')","tickSize":7,"labelPadding":3,"title":"CD (mdeg)","titleX":-80,"titleY":195,"titleAlign":"center","titleBaseline":"middle"}},
"color":{"field":"series","type":"nominal","scale":{"domain":["DMF","2-methoxy EtOH"],"range":["#ff0000","#000000"]},
"legend":{"orient":"none","legendX":116,"legendY":17,"title":null,"symbolSize":807,"labelOffset":51,"rowPadding":8}}}},
{"data":{"values":[{}]},
"mark":{"type":"rect","fill":"transparent","stroke":"#000000","strokeWidth":2},
"encoding":{"x":{"datum":200,"type":"quantitative","axis":null},"x2":{"datum":700},"y":{"datum":-12,"type":"quantitative"},"y2":{"datum":12}}},
{"data":{"values":[{"w":200}]},
"mark":{"type":"rule","strokeOpacity":0},
"encoding":{"x":{"field":"w","type":"quantitative","axis":{"orient":"top","labels":false,"ticks":false,"domain":false,"title":"(IdPA)₂(MA)₂Pb₃I₁₀","titleX":223,"titleY":-1,"titleAlign":"center","titleBaseline":"alphabetic","titleAngle":0,"titleFontSize":28}}}}
]}
]}
